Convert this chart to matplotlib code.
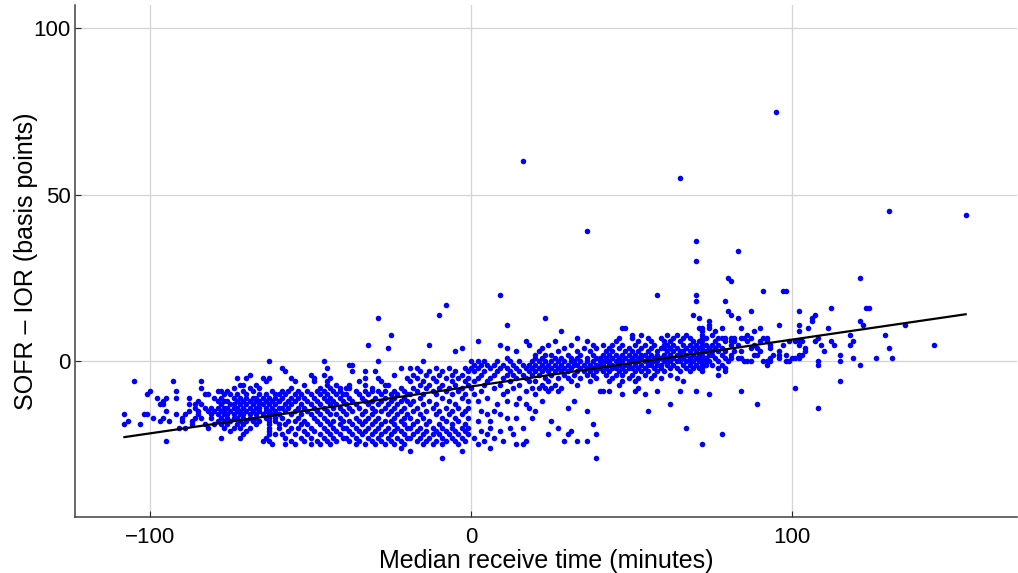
import matplotlib
matplotlib.use("Agg")
import matplotlib.pyplot as plt

# ---------------- data ----------------
# individual points, x from -108 to -80 minutes
pts_left = [(-108, -16), (-108, -19), (-107, -18), (-105, -6), (-103, -19), (-102, -16),
            (-101, -16), (-101, -10), (-100, -9), (-99, -17), (-98, -11), (-97, -18),
            (-97, -13), (-96, -17), (-96, -12), (-96, -13), (-95, -11), (-95, -15),
            (-95, -24), (-94, -18), (-93, -6), (-92, -9), (-92, -11), (-92, -16),
            (-91, -20), (-90, -17), (-90, -18), (-89, -16), (-89, -20), (-88, -11),
            (-88, -13), (-88, -15), (-87, -18), (-87, -19), (-86, -17), (-86, -13),
            (-86, -14), (-85, -12), (-85, -15), (-85, -16), (-84, -6), (-84, -8),
            (-84, -13), (-84, -17), (-83, -10), (-83, -14), (-83, -19), (-82, -10),
            (-82, -15), (-82, -20), (-81, -14), (-81, -16), (-81, -17), (-80, -11),
            (-80, -15), (-80, -19)]

# rows (y value, list of x values) for each band of x
rows_m80_m60 = [
    (-4, [-69]), (-5, [-73, -70, -65, -63]), (-6, [-64]), (-7, [-72, -71, -67]),
    (-8, [-74, -69, -66]), (-9, [-79, -78, -76, -71, -68, -62]),
    (-10, [-77, -75, -73, -70, -66, -64, -61]),
    (-11, [-78, -74, -72, -70, -68, -67, -65, -63, -61]),
    (-12, [-79, -77, -76, -73, -71, -69, -67, -66, -64, -62, -60]),
    (-13, [-78, -75, -74, -72, -70, -68, -66, -65, -63, -61]),
    (-14, [-79, -77, -76, -74, -73, -71, -69, -67, -66, -64, -62, -60]),
    (-15, [-78, -77, -75, -73, -72, -70, -68, -66, -64, -63, -61]),
    (-16, [-79, -77, -76, -74, -72, -71, -69, -67, -65, -63, -62, -60]),
    (-17, [-78, -76, -74, -73, -71, -69, -67, -64, -63, -61]),
    (-18, [-79, -77, -75, -72, -70, -68, -66, -63, -61]),
    (-19, [-78, -76, -73, -71, -67, -63, -60]),
    (-20, [-77, -74, -72, -69, -63]), (-21, [-75, -70, -63]), (-22, [-71, -63, -61]),
    (-23, [-78, -72, -64]), (-24, [-63, -65]), (-25, [-62, -58]),
]

rows_m60_m40 = [
    (0, [-63, -46]), (-1, [-38]), (-2, [-59, -45]), (-3, [-58]), (-4, [-50, -46]),
    (-5, [-56, -49, -44]), (-6, [-49, -45, -55]), (-7, [-45, -42, -52]),
    (-8, [-47, -44, -41, -56]), (-9, [-59, -57, -54, -51, -48, -46, -43, -41]),
    (-10, [-60, -58, -55, -53, -50, -47, -45, -42, -40]),
    (-11, [-59, -56, -54, -52, -49, -46, -44, -41]),
    (-12, [-60, -57, -55, -51, -48, -45, -43, -40]),
    (-13, [-58, -56, -53, -50, -47, -44, -42]),
    (-14, [-59, -57, -54, -52, -49, -46, -43, -41]),
    (-15, [-58, -55, -51, -48, -45, -40]),
    (-16, [-60, -56, -53, -50, -47, -44, -42]),
    (-17, [-59, -54, -49, -46, -41]),
    (-18, [-57, -55, -52, -48, -45, -43, -40]),
    (-19, [-58, -53, -51, -47, -44, -41]),
    (-20, [-60, -56, -54, -50, -46, -43, -40]),
    (-21, [-57, -52, -49, -45, -42]),
    (-22, [-59, -55, -51, -47, -44, -41]),
    (-23, [-58, -53, -50, -46, -43, -40]),
    (-24, [-56, -52, -48, -45, -42]),
    (-25, [-55, -50, -47, -44]),
]

rows_m40_m20 = [
    (13, [-29]), (8, [-25]), (5, [-32]), (4, [-26]), (0, [-29]), (-1, [-37]),
    (-2, [-22]), (-3, [-37, -33, -30]), (-4, [-24]), (-5, [-33, -29, -20]),
    (-6, [-28, -35]), (-7, [-27, -26, -33, -38]), (-8, [-39, -38, -31, -22]),
    (-9, [-36, -33, -31, -29, -27, -24, -21]),
    (-10, [-39, -35, -32, -28, -25, -23, -20]),
    (-11, [-38, -34, -30, -27, -24, -21]),
    (-12, [-37, -33, -31, -28, -25, -22, -20]),
    (-13, [-39, -36, -32, -29, -26, -23]),
    (-14, [-38, -35, -31, -27, -24, -21]),
    (-15, [-37, -33, -30, -28, -25, -22]),
    (-16, [-39, -34, -31, -26, -23, -20]),
    (-17, [-36, -32, -29, -24, -21]),
    (-18, [-38, -35, -33, -30, -27, -25, -22]),
    (-19, [-37, -34, -31, -28, -24, -21]),
    (-20, [-39, -36, -32, -29, -26, -23, -20]),
    (-21, [-38, -35, -33, -30, -27, -24, -22]),
    (-22, [-37, -34, -31, -28, -25, -21]),
    (-23, [-39, -36, -32, -29, -26, -23, -20]),
    (-24, [-38, -35, -31, -28, -25, -22]),
    (-25, [-36, -33, -30, -27, -24, -21]),
    (-26, [-22]),
]

rows_m20_0 = [
    (17, [-8]), (14, [-10]), (5, [-13]), (4, [-3]), (3, [-5]), (0, [-15]),
    (-2, [-19, -17, -11, -7, -2]), (-3, [-16, -13, -9, -5, -1]),
    (-4, [-18, -14, -10, -6, -3]), (-5, [-17, -12, -8, -4, -1]),
    (-6, [-19, -15, -11, -6, -2]), (-7, [-16, -13, -9, -5, -1]),
    (-8, [-18, -14, -10, -7, -3]), (-9, [-17, -12, -8, -4]),
    (-10, [-19, -15, -11, -6, -2]), (-11, [-16, -9, -3]),
    (-12, [-18, -13, -7, -1]), (-13, [-19, -15, -11, -5]),
    (-14, [-17, -12, -8, -4, -1]), (-15, [-18, -14, -10, -6, -2]),
    (-16, [-16, -11, -7, -3]), (-17, [-19, -15, -9, -5, -1]),
    (-18, [-17, -13, -8, -4]), (-19, [-18, -14, -10, -6, -2]),
    (-20, [-19, -16, -12, -9, -6, -3, -1]), (-21, [-17, -14, -11, -8, -5, -2]),
    (-22, [-18, -15, -12, -10, -7, -4, -1]), (-23, [-19, -16, -13, -9, -6, -3]),
    (-24, [-17, -14, -11, -8, -5, -2]), (-25, [-15, -12, -9, -4]),
    (-27, [-19, -3]), (-29, [-9]),
]

rows_0_20 = [
    (20, [9]), (13, [23]), (11, [11]), (6, [2, 17]), (5, [9, 18]), (4, [11]),
    (3, [14]), (2, [20]), (1, [11]), (0, [0, 2, 4, 8, 12, 15, 19]),
    (-1, [1, 3, 5, 7, 10, 13, 16, 18]), (-2, [0, 2, 6, 9, 11, 14, 17, 19]),
    (-3, [1, 4, 8, 12, 15, 18]), (-4, [3, 7, 11, 13, 16, 19]),
    (-5, [2, 6, 10, 14, 17]), (-6, [1, 5, 12, 18]), (-7, [4, 9, 15]),
    (-8, [0, 7, 13, 19]), (-9, [3, 11, 17]), (-10, [1, 10]), (-11, [5, 15]),
    (-12, [2, 11]), (-13, [8, 14]), (-15, [3, 7]), (-16, [5, 9]), (-17, [11, 14]),
    (-18, [2, 6]), (-20, [6, 12, 16]), (-21, [3, 9]), (-22, [5, 13]),
    (-23, [1, 7]), (-24, [4, 10, 17]), (-25, [2, 14]), (-26, [6]),
]

rows_20_40 = [
    (9, [28]), (7, [33]), (6, [26, 36]), (5, [24, 31, 38]), (4, [22, 29, 35, 39]),
    (3, [21, 27, 33, 37]), (2, [23, 25, 30, 34, 38]),
    (1, [20, 22, 26, 28, 31, 33, 36, 39]),
    (0, [21, 23, 25, 27, 29, 31, 32, 34, 36, 38, 40]),
    (-1, [20, 22, 24, 26, 28, 30, 32, 33, 35, 37, 39]),
    (-2, [21, 23, 25, 27, 29, 31, 34, 36, 38, 40]),
    (-3, [20, 22, 24, 26, 28, 30, 33, 35, 37, 39]),
    (-4, [21, 25, 29, 32, 36, 38]), (-5, [23, 27, 30, 34, 39]),
    (-6, [20, 24, 31, 37]), (-7, [22, 26, 33]), (-8, [21, 23, 25, 28]),
    (-9, [24, 27, 40]), (-10, [20]), (-12, [32, 22]), (-13, [17]), (-14, [18, 30]),
    (-15, [20, 36]), (-17, [19]), (-18, [25]), (-19, [38]), (-20, [27]),
    (-21, [31]), (-22, [24, 30, 39]), (-24, [29, 33, 36]), (-25, [16]), (-29, [39]),
]

rows_40_60 = [
    (20, [58]), (10, [47, 48]), (8, [50, 53]), (7, [46, 50, 55, 59]), (6, [45, 52, 56]),
    (5, [41, 44, 47, 51, 54, 57, 60]), (4, [43, 46, 49, 53, 56, 59]),
    (3, [42, 44, 48, 50, 52, 55, 58]),
    (2, [41, 43, 45, 47, 49, 51, 53, 54, 56, 58, 60]),
    (1, [40, 42, 44, 46, 48, 50, 52, 53, 55, 57, 59]),
    (0, [41, 42, 43, 45, 46, 47, 49, 50, 51, 52, 54, 55, 56, 57, 58, 60]),
    (-1, [40, 41, 43, 44, 46, 48, 49, 51, 53, 55, 56, 58, 59]),
    (-2, [42, 44, 45, 47, 49, 50, 52, 54, 57, 59]),
    (-3, [41, 43, 46, 48, 51, 53, 55, 58, 60]),
    (-4, [42, 45, 47, 50, 54, 57]), (-5, [44, 49, 52, 56, 59]), (-6, [43, 47, 51]),
    (-7, [46]), (-8, [52]), (-9, [41, 43, 51, 58]), (-10, [47, 54]), (-15, [55]),
]

rows_60_80 = [
    (55, [65]), (36, [70]), (30, [70]), (25, [80]), (24, [81]), (20, [70]),
    (18, [70, 79]), (15, [80]), (14, [69, 81]), (13, [71]), (12, [74]), (11, [74]),
    (10, [71, 72, 74, 78]), (9, [72, 76]), (8, [61, 64, 67, 72, 75]),
    (7, [63, 66, 68, 72, 73, 77, 78, 79]), (6, [60, 62, 65, 69, 71, 72, 76, 79]),
    (5, [61, 63, 66, 68, 70, 72, 73, 75, 77]),
    (4, [60, 62, 64, 67, 69, 71, 72, 74, 76, 78]),
    (3, [61, 63, 65, 66, 68, 70, 72, 73, 75, 77, 79]),
    (2, [60, 62, 64, 65, 67, 69, 71, 72, 74, 75, 78]),
    (1, [61, 62, 63, 65, 66, 68, 70, 71, 72, 73, 76, 79]),
    (0, [60, 61, 62, 64, 65, 67, 68, 69, 71, 72, 73, 74, 77, 80]),
    (-1, [61, 63, 66, 68, 70, 72, 73, 75, 78]),
    (-2, [62, 64, 67, 69, 71, 72, 77, 79]), (-3, [65, 68, 72, 79]), (-4, [62, 77]),
    (-5, [64]), (-6, [66]), (-9, [65, 70]), (-10, [74]), (-13, [62]), (-20, [67]),
    (-22, [78]), (-25, [72]),
]

rows_80_100 = [
    (75, [95]), (33, [83]), (21, [91, 97, 98]), (15, [87]), (13, [83]), (11, [96]),
    (10, [84, 90]), (9, [88]), (8, [86]), (7, [81, 82, 84, 85, 87, 91, 92]),
    (6, [81, 82, 86, 90, 92, 99]), (5, [81, 83, 88, 93, 97]), (4, [87, 89, 93]),
    (3, [82, 84, 90, 96]), (2, [81, 88, 89, 94, 96, 98]),
    (1, [81, 83, 84, 93, 96, 100]), (0, [85, 86, 87, 91, 92, 93, 98, 99]),
    (-1, [92]), (-9, [84]), (-13, [89]),
]

rows_100_155 = [
    (45, [130]), (44, [154]), (25, [121]), (16, [112, 123, 124]), (15, [102]),
    (14, [107]), (13, [106]), (12, [106, 121]), (11, [102, 122, 135]),
    (10, [105, 111]), (9, [102]), (8, [118, 129]), (7, [108]),
    (6, [101, 102, 103, 107, 112, 119]), (5, [102, 109, 113, 118, 144]),
    (4, [104, 130]), (3, [104, 110]), (2, [102, 103, 115]),
    (1, [101, 102, 119, 126, 131]), (0, [108, 115]), (-1, [108, 121]),
    (-6, [115]), (-8, [101]), (-14, [108]),
]

# extra isolated high values
outliers = [(16, 60), (36, 39)]

# fitted regression line (end points)
fit_x = [-108, 154]
fit_y = [-22.8, 14.1]

x_ticks = [-100, 0, 100]
y_ticks = [0, 50, 100]
x_label = "Median receive time (minutes)"
y_label = "SOFR \u2013 IOR (basis points)"

# ---------------- build the point lists ----------------
xs, ys = [], []
for x, y in pts_left + outliers:
    xs.append(x)
    ys.append(y)
for band in [rows_m80_m60, rows_m60_m40, rows_m40_m20, rows_m20_0, rows_0_20,
             rows_20_40, rows_40_60, rows_60_80, rows_80_100, rows_100_155]:
    for y, xl in band:
        for x in xl:
            xs.append(x)
            ys.append(y)

# ---------------- plot ----------------
plt.rcParams['font.family'] = ['Liberation Sans', 'DejaVu Sans']
fig = plt.figure(figsize=(10.18, 5.73), dpi=100)
ax = fig.add_axes([75 / 1018, 56 / 573, 942 / 1018, 512 / 573])

ax.scatter(xs, ys, s=16, color='#0000ff', linewidths=0, zorder=3)
ax.plot(fit_x, fit_y, color='black', lw=1.6, zorder=4)

ax.set_xlim(-123.4, 170)
ax.set_ylim(-46.8, 107)
ax.set_xticks(x_ticks)
ax.set_yticks(y_ticks)
ax.grid(True, color='#d4d4d4', lw=0.9, zorder=0)
ax.set_axisbelow(True)

for side in ['top', 'right']:
    ax.spines[side].set_visible(False)
for side in ['left', 'bottom']:
    ax.spines[side].set_color('#404040')
    ax.spines[side].set_linewidth(1.1)

ax.tick_params(direction='in', length=4, width=0.8, colors='#262626',
               labelsize=16, labelcolor='black', pad=3)
ax.tick_params(axis='x', pad=7)
ax.set_xlabel(x_label, fontsize=18, labelpad=1)
ax.set_ylabel(y_label, fontsize=18, labelpad=-3)

fig.savefig("out.png", dpi=100)
